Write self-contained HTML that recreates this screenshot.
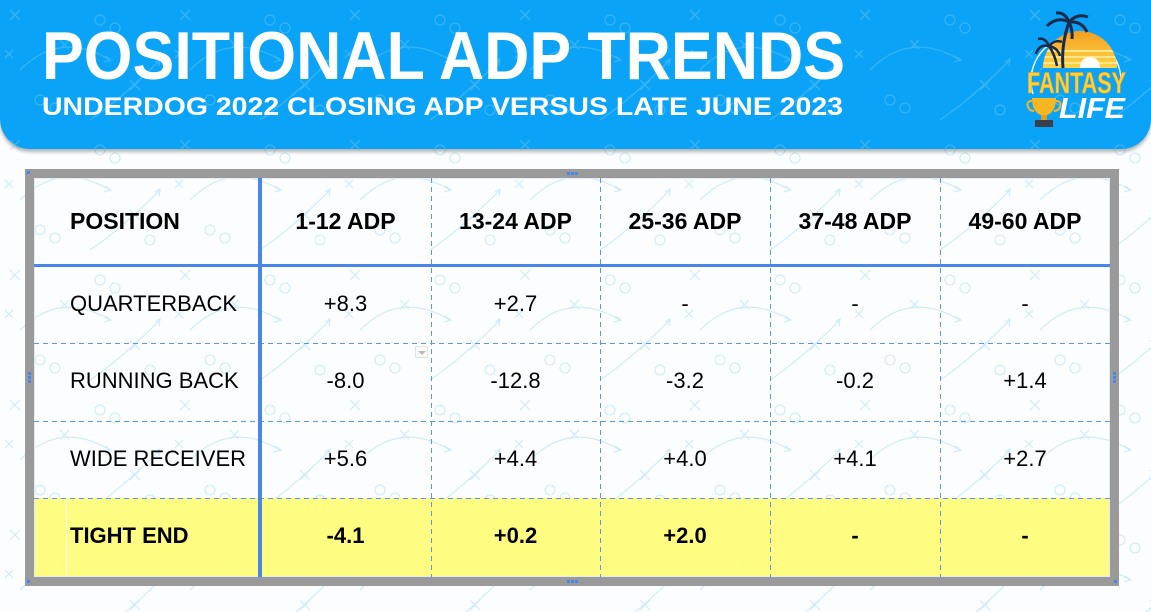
<!DOCTYPE html>
<html><head><meta charset="utf-8">
<style>
*{margin:0;padding:0;box-sizing:border-box}
body{width:1151px;height:612px;overflow:hidden;position:relative;background:#fbfdff;font-family:"Liberation Sans",sans-serif;color:#000}
.abs{position:absolute}
.banner{left:0;top:0;width:1151px;height:149px;background:#0aa3f7;border-radius:0 0 30px 30px;box-shadow:0 3px 3px rgba(0,0,0,0.28);overflow:hidden}
.frame{left:25px;top:169px;width:1094px;height:417px;border:9px solid #9a9a9a}
.inner{left:34px;top:178px;width:1076px;height:399px;box-shadow:inset 0 0 0 1px #e3ecf5}
.yellow{left:34px;top:498px;width:1076px;height:79px;background:rgba(254,253,120,0.93)}
.hl{height:1px;background:repeating-linear-gradient(90deg,#5b95ee 0 5px,transparent 5px 9px)}
.vl{width:1px;top:178px;height:399px;background:repeating-linear-gradient(180deg,#5b95ee 0 5px,transparent 5px 9px)}
.cell{position:absolute;text-align:center;font-size:22px;white-space:nowrap}
.h{font-weight:bold;font-size:23px}
.b{font-weight:bold}
</style></head><body>

<svg class="abs" style="left:0;top:0" width="1151" height="612">
<defs>
<pattern id="pw" width="170" height="130" patternUnits="userSpaceOnUse">
<g fill="none" stroke="#cdeafb" stroke-width="1.1">
<path d="M10 10 l10 10 M20 10 l-10 10"/>
<path d="M60 40 l9 9 M69 40 l-9 9"/>
<circle cx="100" cy="20" r="5"/><circle cx="115" cy="28" r="5"/>
<path d="M20 70 q40 -40 90 -10"/><path d="M105 56 l6 4 l-7 2"/>
<circle cx="40" cy="100" r="5"/><circle cx="55" cy="108" r="5"/>
<path d="M130 80 l10 10 M140 80 l-10 10"/>
<path d="M90 120 q30 -20 70 -60"/><path d="M155 62 l5 -3 l-1 7"/>
<path d="M5 50 l8 8 M13 50 l-8 8"/>
<circle cx="150" cy="110" r="5"/>
</g>
</pattern>
<pattern id="pb" width="170" height="130" patternUnits="userSpaceOnUse">
<g fill="none" stroke="#35b4fa" stroke-width="1.3">
<path d="M10 10 l10 10 M20 10 l-10 10"/>
<path d="M60 40 l9 9 M69 40 l-9 9"/>
<circle cx="100" cy="20" r="5"/><circle cx="115" cy="28" r="5"/>
<path d="M20 70 q40 -40 90 -10"/><path d="M105 56 l6 4 l-7 2"/>
<circle cx="40" cy="100" r="5"/><circle cx="55" cy="108" r="5"/>
<path d="M130 80 l10 10 M140 80 l-10 10"/>
<path d="M90 120 q30 -20 70 -60"/><path d="M155 62 l5 -3 l-1 7"/>
<path d="M5 50 l8 8 M13 50 l-8 8"/>
<circle cx="150" cy="110" r="5"/>
</g>
</pattern>
</defs>
<rect x="0" y="0" width="1151" height="612" fill="url(#pw)"/>
</svg>

<div class="abs banner">
<svg width="1151" height="149" style="position:absolute;left:0;top:0"><rect width="1151" height="149" fill="url(#pb)"/></svg>
</div>

<svg class="abs" style="left:0;top:0" width="1151" height="150">
<text x="42" y="79" font-family="Liberation Sans, sans-serif" font-weight="bold" font-size="68" fill="#fff" textLength="803" lengthAdjust="spacingAndGlyphs">POSITIONAL ADP TRENDS</text>
<text x="42" y="115" font-family="Liberation Sans, sans-serif" font-weight="bold" font-size="25" fill="#fff" textLength="801" lengthAdjust="spacingAndGlyphs">UNDERDOG 2022 CLOSING ADP VERSUS LATE JUNE 2023</text>
<defs>
<linearGradient id="sun" x1="0" y1="0" x2="0" y2="1">
<stop offset="0" stop-color="#f29a1e"/><stop offset="1" stop-color="#ffd84a"/>
</linearGradient>
<clipPath id="half"><path d="M1043 68 A37 37 0 0 1 1117 68 Z"/></clipPath>
</defs>
<path d="M1033 94 A45 45 0 1 1 1121 80" fill="none" stroke="#e8f6ff" stroke-width="1.5"/>
<g clip-path="url(#half)">
<rect x="1040" y="28" width="80" height="42" fill="url(#sun)"/>
<rect x="1040" y="50" width="80" height="2" fill="#ffe68a"/>
<rect x="1040" y="56" width="80" height="2" fill="#ffe68a"/>
<rect x="1040" y="62" width="80" height="2" fill="#ffe68a"/>
<circle cx="1090" cy="67" r="10" fill="#fff"/>
</g>
<path d="M1063 68 Q1061 45 1069 22" stroke="#1b2a48" stroke-width="3" fill="none"/>
<path d="M1069 22 q-12 -6 -22 4 M1069 22 q-4 -10 -13 -9 M1069 22 q8 -9 19 -5 M1069 22 q13 -1 18 10 M1069 22 q4 8 3 17" stroke="#1b2a48" stroke-width="3" fill="none"/>
<path d="M1057 66 Q1055 55 1049 46" stroke="#1b2a48" stroke-width="2.5" fill="none"/>
<path d="M1049 46 q-10 -2 -13 8 M1049 46 q-4 -9 -11 -7 M1049 46 q6 -7 13 -4 M1049 46 q9 2 11 10" stroke="#1b2a48" stroke-width="2.5" fill="none"/>
<text x="1027" y="93" font-family="Liberation Sans, sans-serif" font-weight="bold" font-size="30" fill="#fcd13a" stroke="#e79f1c" stroke-width="0.6" textLength="99" lengthAdjust="spacingAndGlyphs">FANTASY</text>
<text x="1059" y="118" font-family="Liberation Sans, sans-serif" font-weight="bold" font-style="italic" font-size="29" fill="#fff" textLength="66" lengthAdjust="spacingAndGlyphs">LIFE</text>
<path d="M1032 98 h24 q0 16 -12 18 q-12 -2 -12 -18z" fill="#f5b622"/>
<path d="M1032 101 q-6 0 -4 6 q2 4 6 4 M1056 101 q6 0 4 6 q-2 4 -6 4" stroke="#f5b622" stroke-width="2" fill="none"/>
<rect x="1041" y="115" width="6" height="6" fill="#e0a020"/>
<rect x="1035" y="120" width="18" height="7" fill="#3a3f47"/>
</svg>

<div class="abs yellow"></div>
<div class="abs" style="left:66px;top:498px;width:1px;height:79px;background:#fffef0"></div>
<div class="abs frame"></div>
<div class="abs inner"></div>

<div class="abs" style="left:34px;top:264px;width:1076px;height:3px;background:#4a86e8"></div>
<div class="abs hl" style="left:34px;top:343px;width:1076px"></div>
<div class="abs hl" style="left:34px;top:421px;width:1076px"></div>
<div class="abs hl" style="left:34px;top:498px;width:1076px"></div>
<div class="abs" style="left:258px;top:178px;width:4px;height:399px;background:#4a86e8"></div>
<div class="abs vl" style="left:431px"></div>
<div class="abs vl" style="left:600px"></div>
<div class="abs vl" style="left:770px"></div>
<div class="abs vl" style="left:940px"></div>

<div class="abs" style="left:27px;top:171px;width:3px;height:3px;background:#4a86e8"></div>
<div class="abs" style="left:567px;top:172px;width:11px;height:3px;background:repeating-linear-gradient(90deg,#4a86e8 0 3px,transparent 3px 4px)"></div>
<div class="abs" style="left:567px;top:580px;width:11px;height:3px;background:repeating-linear-gradient(90deg,#4a86e8 0 3px,transparent 3px 4px)"></div>
<div class="abs" style="left:28px;top:372px;width:3px;height:11px;background:repeating-linear-gradient(0deg,#4a86e8 0 3px,transparent 3px 4px)"></div>
<div class="abs" style="left:1113px;top:372px;width:3px;height:11px;background:repeating-linear-gradient(0deg,#4a86e8 0 3px,transparent 3px 4px)"></div>
<div class="abs" style="left:1114px;top:580px;width:3px;height:3px;background:#4a86e8"></div>
<div class="abs" style="left:27px;top:580px;width:3px;height:3px;background:#4a86e8"></div>
<div class="abs" style="left:415px;top:346px;width:13px;height:12px;border:1px solid #e2e2e2;background:#fafafa"></div>
<div class="abs" style="left:418px;top:351px;width:0;height:0;border-left:4px solid transparent;border-right:4px solid transparent;border-top:4px solid #bbb"></div>

<div class="cell h" style="left:70px;top:178px;height:86px;line-height:86px;text-align:left">POSITION</div>
<div class="cell h" style="left:260px;width:171px;top:178px;height:86px;line-height:86px">1-12 ADP</div>
<div class="cell h" style="left:431px;width:169px;top:178px;height:86px;line-height:86px">13-24 ADP</div>
<div class="cell h" style="left:600px;width:170px;top:178px;height:86px;line-height:86px">25-36 ADP</div>
<div class="cell h" style="left:770px;width:170px;top:178px;height:86px;line-height:86px">37-48 ADP</div>
<div class="cell h" style="left:940px;width:170px;top:178px;height:86px;line-height:86px">49-60 ADP</div>

<div class="cell" style="left:70px;top:266px;height:77px;line-height:75px;text-align:left">QUARTERBACK</div>
<div class="cell" style="left:260px;width:171px;top:266px;height:77px;line-height:75px">+8.3</div>
<div class="cell" style="left:431px;width:169px;top:266px;height:77px;line-height:75px">+2.7</div>
<div class="cell" style="left:600px;width:170px;top:266px;height:77px;line-height:75px">-</div>
<div class="cell" style="left:770px;width:170px;top:266px;height:77px;line-height:75px">-</div>
<div class="cell" style="left:940px;width:170px;top:266px;height:77px;line-height:75px">-</div>

<div class="cell" style="left:70px;top:343px;height:78px;line-height:76px;text-align:left">RUNNING BACK</div>
<div class="cell" style="left:260px;width:171px;top:343px;height:78px;line-height:76px">-8.0</div>
<div class="cell" style="left:431px;width:169px;top:343px;height:78px;line-height:76px">-12.8</div>
<div class="cell" style="left:600px;width:170px;top:343px;height:78px;line-height:76px">-3.2</div>
<div class="cell" style="left:770px;width:170px;top:343px;height:78px;line-height:76px">-0.2</div>
<div class="cell" style="left:940px;width:170px;top:343px;height:78px;line-height:76px">+1.4</div>

<div class="cell" style="left:70px;top:421px;height:77px;line-height:75px;text-align:left">WIDE RECEIVER</div>
<div class="cell" style="left:260px;width:171px;top:421px;height:77px;line-height:75px">+5.6</div>
<div class="cell" style="left:431px;width:169px;top:421px;height:77px;line-height:75px">+4.4</div>
<div class="cell" style="left:600px;width:170px;top:421px;height:77px;line-height:75px">+4.0</div>
<div class="cell" style="left:770px;width:170px;top:421px;height:77px;line-height:75px">+4.1</div>
<div class="cell" style="left:940px;width:170px;top:421px;height:77px;line-height:75px">+2.7</div>

<div class="cell b" style="left:70px;top:498px;height:79px;line-height:76px;text-align:left">TIGHT END</div>
<div class="cell b" style="left:260px;width:171px;top:498px;height:79px;line-height:76px">-4.1</div>
<div class="cell b" style="left:431px;width:169px;top:498px;height:79px;line-height:76px">+0.2</div>
<div class="cell b" style="left:600px;width:170px;top:498px;height:79px;line-height:76px">+2.0</div>
<div class="cell b" style="left:770px;width:170px;top:498px;height:79px;line-height:76px">-</div>
<div class="cell b" style="left:940px;width:170px;top:498px;height:79px;line-height:76px">-</div>

</body></html>
